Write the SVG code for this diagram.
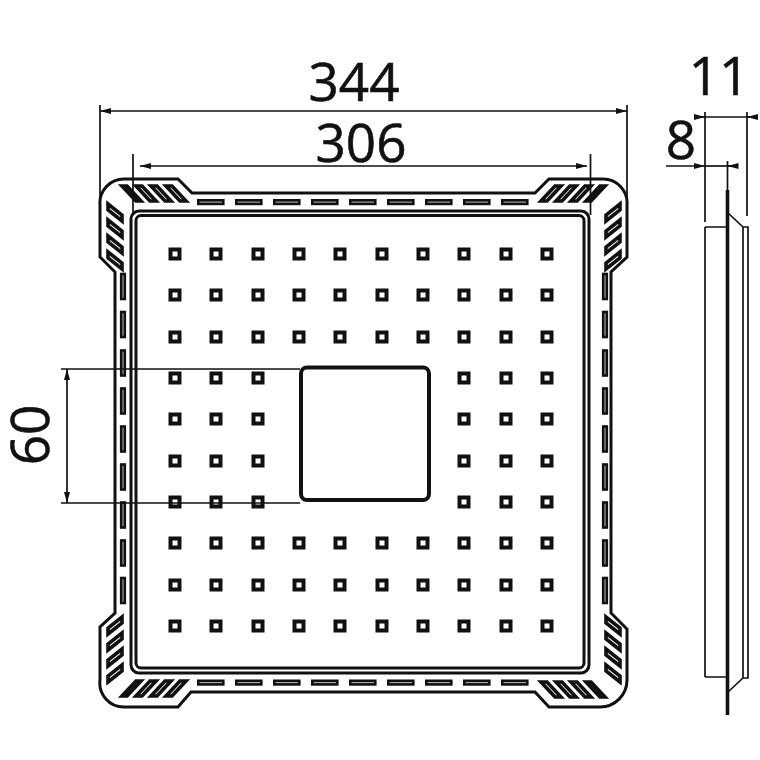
<svg xmlns="http://www.w3.org/2000/svg" width="760" height="760" viewBox="0 0 760 760">
<style>
.l{fill:none;stroke:#111;stroke-width:3;stroke-linejoin:miter}
.d{fill:none;stroke:#111;stroke-width:1.7}
.a{marker-start:url(#ar);marker-end:url(#ar)}
.e{marker-end:url(#ar)}
.s{fill:#fff;stroke:#111;stroke-width:3.600}
.t{fill:#bbb;stroke:#111;stroke-width:2.6}
text{font-family:"Open Sans","Noto Sans",sans-serif;font-size:53px;fill:#111;stroke:#111;stroke-width:.6}
</style>
<defs>
<marker id="ar" markerUnits="userSpaceOnUse" markerWidth="12" markerHeight="8" refX="11" refY="4" orient="auto-start-reverse"><path d="M0,1L11,4L0,7Z" fill="#111"/></marker>
<rect id="h" x="-4.500" y="-4.500" width="9" height="9" fill="#fff" stroke="#111" stroke-width="4"/>
<g id="split"><use href="#h" x="175"/><use href="#h" x="216"/><use href="#h" x="258"/><use href="#h" x="464"/><use href="#h" x="506"/><use href="#h" x="547"/></g>
<g id="full"><use href="#split"/><use href="#h" x="299"/><use href="#h" x="340"/><use href="#h" x="382"/><use href="#h" x="423"/></g>
<rect id="hs" class="t" width="25" height="3.600"/>
<rect id="vs" class="t" width="3.600" height="25"/>
<g id="ts">
<path class="s" d="M122,186H127L141,201H136Z"/><path class="s" d="M136,186H142L156,201H150Z"/><path class="s" d="M151,186H157L171,201H165Z"/><path class="s" d="M166,186H172L186,201H180Z"/>
</g>
<g id="ls">
<path class="s" d="M108,204L122,215V221L108,210Z"/><path class="s" d="M108,220L122,231V237L108,226Z"/><path class="s" d="M108,236L122,247V253L108,242Z"/><path class="s" d="M108,252L122,263V269L108,258Z"/>
</g>
</defs>

<g id="plate">
<path id="outline" class="l" d="M125,179H178L192,193H535L549,179H603A24,24 0 0 1 627,205V257L611,272V613L627,629V680A27,27 0 0 1 600,707H549L535,692H191L178,707H124A24,24 0 0 1 100,680V627L115,613V272L100,257V205A24,24 0 0 1 125,179Z"/>
<rect class="l" x="131" y="211" width="458" height="462" rx="8"/>
<rect class="l" x="136" y="215.500" width="448" height="452.500" rx="5"/>
<rect id="window" x="301" y="367.500" width="128" height="132.500" rx="6" fill="#fff" stroke="#111" stroke-width="4"/>
</g>

<g id="slots">
<use href="#hs" x="198.300" y="200.300"/><use href="#hs" x="236.300" y="200.300"/><use href="#hs" x="274.300" y="200.300"/><use href="#hs" x="312.300" y="200.300"/><use href="#hs" x="350.300" y="200.300"/><use href="#hs" x="388.300" y="200.300"/><use href="#hs" x="426.300" y="200.300"/><use href="#hs" x="464.300" y="200.300"/><use href="#hs" x="502.300" y="200.300"/>
<use href="#hs" x="198.300" y="680.800"/><use href="#hs" x="236.300" y="680.800"/><use href="#hs" x="274.300" y="680.800"/><use href="#hs" x="312.300" y="680.800"/><use href="#hs" x="350.300" y="680.800"/><use href="#hs" x="388.300" y="680.800"/><use href="#hs" x="426.300" y="680.800"/><use href="#hs" x="464.300" y="680.800"/><use href="#hs" x="502.300" y="680.800"/>
<use href="#vs" x="121.200" y="274"/><use href="#vs" x="121.200" y="312"/><use href="#vs" x="121.200" y="350.500"/><use href="#vs" x="121.200" y="388.500"/><use href="#vs" x="121.200" y="426.500"/><use href="#vs" x="121.200" y="464.500"/><use href="#vs" x="121.200" y="502.500"/><use href="#vs" x="121.200" y="540.500"/><use href="#vs" x="121.200" y="578"/>
<use href="#vs" x="603.200" y="274"/><use href="#vs" x="603.200" y="312"/><use href="#vs" x="603.200" y="350.500"/><use href="#vs" x="603.200" y="388.500"/><use href="#vs" x="603.200" y="426.500"/><use href="#vs" x="603.200" y="464.500"/><use href="#vs" x="603.200" y="502.500"/><use href="#vs" x="603.200" y="540.500"/><use href="#vs" x="603.200" y="578"/>
</g>

<g id="corner-slats">
<use href="#ts"/><use href="#ls"/>
<use href="#ts" transform="matrix(-1 0 0 1 727 0)"/><use href="#ls" transform="matrix(-1 0 0 1 728 0)"/>
<use href="#ts" transform="matrix(1 0 0 -1 0 882)"/><use href="#ls" transform="matrix(1 0 0 -1 0 886)"/>
<use href="#ts" transform="matrix(-1 0 0 -1 727 883)"/><use href="#ls" transform="matrix(-1 0 0 -1 728 886)"/>
</g>

<g id="holes">
<use href="#full" y="254"/><use href="#full" y="295"/><use href="#full" y="337"/>
<use href="#split" y="378"/><use href="#split" y="419"/><use href="#split" y="461"/><use href="#split" y="502"/>
<use href="#full" y="543"/><use href="#full" y="585"/><use href="#full" y="626"/>
</g>

<g id="side-view">
<path class="d" d="M705,227H727M705,677H727M705,227V677"/>
<path class="d" d="M728,213L743,227H748V678H743L728,692M743,227V678"/>
<path d="M727.500,190V715" fill="none" stroke="#111" stroke-width="3.600"/>
</g>

<g id="dimensions">
<path class="d a" d="M100,111H627"/>
<path class="d" d="M100,105V197M627,105V197"/>
<path class="d a" d="M140,166H587"/>
<path class="d" d="M133,154V212M590.500,154V215"/>
<path class="d a" d="M67,369V503"/>
<path class="d" d="M61,369H300M61,503H300"/>
<path class="d" d="M705,112V222M747,112V216M727.500,161V190"/>
<path class="d" d="M705,117H753"/>
<path class="d e" d="M694,117H705"/>
<path class="d e" d="M758,117H747"/>
<path class="d e" d="M666,166H705"/>
<path class="d" d="M705,166H736"/>
<path class="d e" d="M738,166H727.500"/>
</g>

<g id="labels">
<text x="354" y="101" text-anchor="middle">344</text>
<text x="361" y="162" text-anchor="middle">306</text>
<text x="719" y="95" text-anchor="middle">11</text>
<text x="681" y="159" text-anchor="middle">8</text>
<text transform="translate(49,435) rotate(-90)" text-anchor="middle">60</text>
</g>
</svg>
